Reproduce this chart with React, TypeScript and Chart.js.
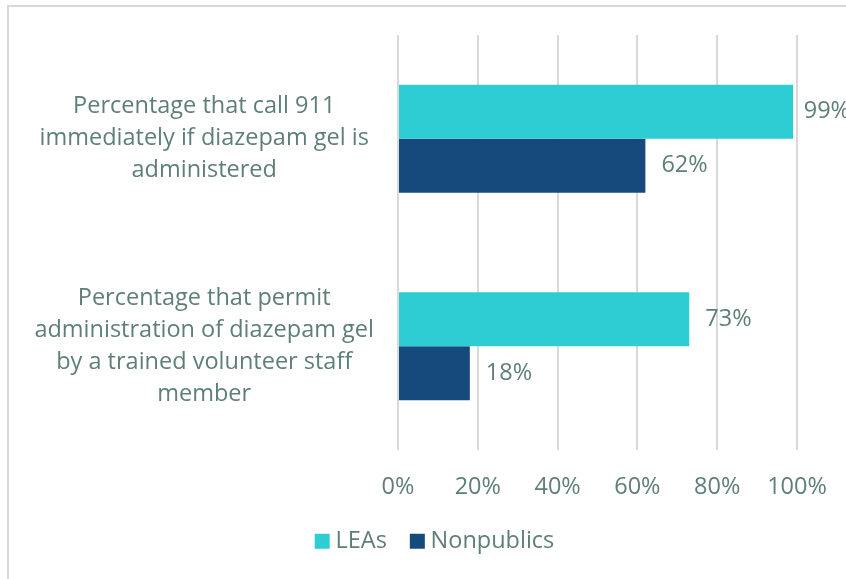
import React, { useEffect, useRef } from "react";
import { Chart, registerables } from "chart.js";

Chart.register(...registerables);

const categories: string[][] = [
  ["Percentage that call 911", "immediately if diazepam gel is", "administered"],
  ["Percentage that permit", "administration of diazepam gel", "by a trained volunteer staff", "member"],
];
const seriesNames = ["LEAs", "Nonpublics"];
const leasValues = [99, 73];
const nonpublicsValues = [62, 18];
const xTicks = [0, 20, 40, 60, 80, 100];

const TEXT = "#5e7f79";
const FONT = "'Open Sans', 'Noto Sans', sans-serif";
const FS = 23.5;
const AXIS_LEFT = 398;
const LEGEND_LEFT = 78;

const dataLabelPlugin = {
  id: "dataLabels",
  afterDatasetsDraw(chart: any) {
    const ctx = chart.ctx;
    ctx.save();
    ctx.font = `${FS}px ${FONT}`;
    ctx.fillStyle = TEXT;
    ctx.textAlign = "left";
    ctx.textBaseline = "middle";
    chart.data.datasets.forEach((ds: any, di: number) => {
      const meta = chart.getDatasetMeta(di);
      meta.data.forEach((bar: any, i: number) => {
        const txt = `${ds.data[i]}%`;
        const w = ctx.measureText(txt).width;
        const x = Math.min(bar.x + 16, chart.width - w + 4);
        ctx.fillText(txt, x, bar.y);
      });
    });
    ctx.restore();
  },
};

const legendShiftPlugin = {
  id: "legendShift",
  afterLayout(chart: any) {
    if (chart.legend) chart.legend.left = LEGEND_LEFT;
  },
};

export default function App() {
  const ref = useRef<HTMLCanvasElement | null>(null);
  useEffect(() => {
    if (!ref.current) return;
    const chart = new Chart(ref.current, {
      type: "bar",
      data: {
        labels: categories,
        datasets: [
          {
            label: seriesNames[0],
            data: leasValues,
            backgroundColor: "#2ecdd3",
            categoryPercentage: 0.52,
            barPercentage: 1,
          },
          {
            label: seriesNames[1],
            data: nonpublicsValues,
            backgroundColor: "#174a7c",
            categoryPercentage: 0.52,
            barPercentage: 1,
          },
        ],
      },
      options: {
        indexAxis: "y",
        animation: false,
        responsive: false,
        maintainAspectRatio: false,
        layout: { padding: { top: 35, right: 49, bottom: 16, left: 0 } },
        plugins: {
          legend: {
            position: "bottom",
            labels: {
              usePointStyle: true,
              pointStyle: "rect",
              boxWidth: 3,
              boxHeight: 15,
              padding: 29,
              color: TEXT,
              font: { family: FONT, size: FS },
            },
          },
          tooltip: { enabled: false },
        },
        scales: {
          x: {
            min: 0,
            max: 100,
            afterBuildTicks: (scale: any) => {
              scale.ticks = xTicks.map((v) => ({ value: v }));
            },
            afterFit: (scale: any) => {
              scale.paddingLeft = 0;
              scale.paddingRight = 0;
              scale.height = 50.5;
            },
            grid: { color: "#d9d9d9", lineWidth: 2, drawTicks: false },
            border: { display: false },
            ticks: {
              padding: 23,
              color: TEXT,
              font: { family: FONT, size: FS },
              callback: (v: any) => `${v}%`,
            },
          },
          y: {
            grid: { display: false, drawTicks: false },
            border: { display: false },
            afterFit: (scale: any) => {
              scale.width = AXIS_LEFT;
              scale.paddingTop = 0;
              scale.paddingBottom = 0;
            },
            ticks: {
              crossAlign: "center",
              padding: 24,
              color: TEXT,
              font: { family: FONT, size: FS, lineHeight: 1.36 },
            },
          },
        },
      },
      plugins: [dataLabelPlugin, legendShiftPlugin],
    } as any);
    return () => chart.destroy();
  }, []);

  return (
    <div style={{ position: "fixed", left: 0, top: 0, width: 846, height: 579, overflow: "hidden", background: "#fff" }}>
      <canvas ref={ref} width={846} height={579} style={{ position: "absolute", left: 0, top: 0, width: 846, height: 579 }} />
      <div
        style={{
          position: "absolute",
          left: 7,
          top: 5,
          width: 2000,
          height: 2000,
          border: "2px solid #d9d9d9",
          pointerEvents: "none",
        }}
      />
    </div>
  );
}
